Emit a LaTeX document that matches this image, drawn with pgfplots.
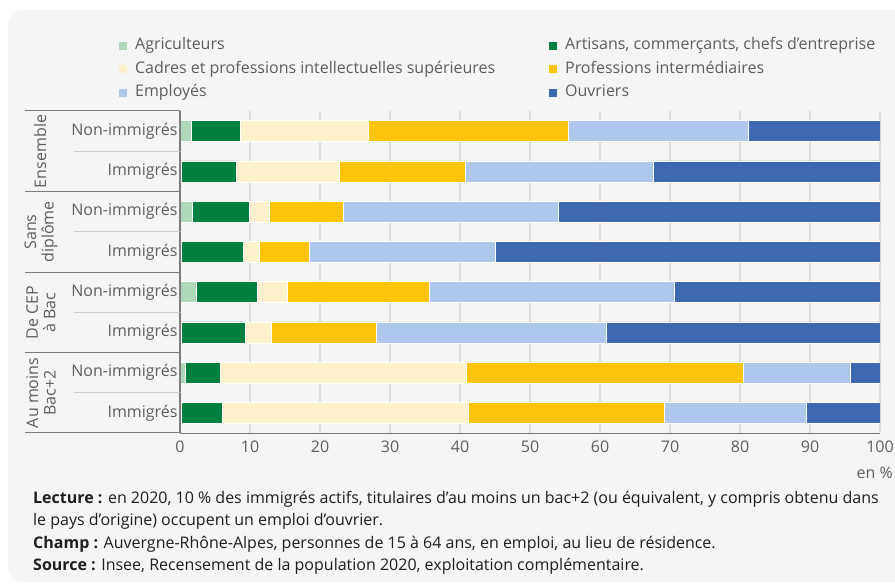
\documentclass[border=0pt]{standalone}
\usepackage{fontspec}
\setmainfont{Open Sans}
\usepackage{pgfplots}
\usepackage{pgfplotstable}
\pgfplotsset{compat=1.18}
\definecolor{cAgri}{HTML}{AED8B9}
\definecolor{cArt}{HTML}{00803F}
\definecolor{cCad}{HTML}{FDF0CD}
\definecolor{cProf}{HTML}{FCC30B}
\definecolor{cEmp}{HTML}{AEC8EC}
\definecolor{cOuv}{HTML}{3D69B0}
\definecolor{panel}{HTML}{F5F5F5}
\definecolor{txt}{HTML}{5E5E5E}
\definecolor{foot}{HTML}{1E1E1E}
\definecolor{gridc}{HTML}{DEDEDE}
\definecolor{axc}{HTML}{7A7A7A}
\definecolor{sepl}{HTML}{CDCDCD}

\pgfplotstableread{
row agri art cad prof emp ouv
0 1.6 7.0 18.3 28.6 25.7 18.8
1 0.2 7.9 14.7 17.9 26.9 32.4
2 1.8 8.1 2.8 10.7 30.6 46.0
3 0.2 8.9 2.3 7.1 26.5 55.0
4 2.4 8.6 4.3 20.3 35.0 29.4
5 0.2 9.1 3.7 15.0 32.9 39.1
6 0.7 5.0 35.2 39.6 15.2 4.3
7 0.2 5.8 35.2 28.0 20.3 10.5
}\data

\newcommand{\fs}{\fontsize{16}{17.5}\selectfont}

\begin{document}
\begin{tikzpicture}[x=1pt,y=1pt]
\useasboundingbox (0,0) rectangle (895,584);
\fill[white] (0,0) rectangle (895,584);
\fill[panel, rounded corners=14pt] (8,2) rectangle (930,574);

\begin{axis}[
  at={(180pt,151pt)}, anchor=south west,
  scale only axis, width=700pt, height=322pt,
  xbar stacked, bar width=21pt,
  y dir=reverse,
  xmin=0, xmax=100, ymin=-0.5, ymax=7.5,
  ytick={0,...,7},
  yticklabels={Non-immigrés,Immigrés,Non-immigrés,Immigrés,Non-immigrés,Immigrés,Non-immigrés,Immigrés},
  xtick={0,10,...,100},
  xmajorgrids, grid style={gridc, line width=1.2pt},
  axis x line*=bottom, axis y line*=left,
  axis line style={axc, line width=1pt, -},
  major tick length=0pt,
  tick label style={txt, font=\fs},
  xticklabel style={yshift=-4pt},
  yticklabel style={xshift=1pt},
  /pgf/number format/assume math mode=true,
  every axis plot/.append style={draw=white, line width=0.7pt},
  legend columns=2,
  legend cell align=left,
  legend image code/.code={\fill[#1,draw=none] (0pt,-4pt) rectangle (8pt,4pt);},
  legend style={draw=none, fill=none, font=\fs, text=txt,
    at={(axis description cs:-0.0915,1.238)}, anchor=north west,
    nodes={inner sep=1pt, text height=12pt, text depth=4pt},
    row sep=5.5pt,
    /tikz/every odd column/.append style={column sep=7pt}},
]
\addplot[fill=cAgri] table[x=agri, y=row] {\data};
\addlegendentry{\makebox[413pt][l]{Agriculteurs}}
\addplot[fill=cArt] table[x=art, y=row] {\data};
\addlegendentry{Artisans, commerçants, chefs d’entreprise}
\addplot[fill=cCad] table[x=cad, y=row] {\data};
\addlegendentry{\makebox[413pt][l]{Cadres et professions intellectuelles supérieures}}
\addplot[fill=cProf] table[x=prof, y=row] {\data};
\addlegendentry{Professions intermédiaires}
\addplot[fill=cEmp] table[x=emp, y=row] {\data};
\addlegendentry{\makebox[413pt][l]{Employés}}
\addplot[fill=cOuv] table[x=ouv, y=row] {\data};
\addlegendentry{Ouvriers}
\end{axis}

% separators
\foreach \yy in {111,192,272.5,353,433}{
  \draw[axc, line width=1pt] (25,584-\yy) -- (180,584-\yy);
}
\foreach \yy in {151.7,232,312.7,393}{
  \draw[sepl, line width=1pt] (74,584-\yy) -- (180,584-\yy);
}
\draw[axc, line width=1pt] (180,584-111) -- (180,584-433);

% group labels
\node[rotate=90, txt, font=\fs] at (40,584-151.5) {Ensemble};
\node[rotate=90, txt, font=\fs, align=center] at (41,584-232) {Sans\\diplôme};
\node[rotate=90, txt, font=\fs, align=center] at (41,584-312.5) {De CEP\\à Bac};
\node[rotate=90, txt, font=\fs, align=center] at (41,584-393) {Au moins\\Bac+2};

\node[anchor=east, txt, font=\fs, inner sep=0pt] at (893,584-473) {en \%};

\node[anchor=north west, foot, inner sep=0pt, align=left,
      font=\fontsize{16}{22.4}\selectfont] at (33,584-491)
 {\textbf{Lecture~:} en 2020, 10~\% des immigrés actifs, titulaires d’au moins un bac+2 (ou équivalent, y compris obtenu dans\\
 le pays d’origine) occupent un emploi d’ouvrier.\\
 \textbf{Champ~:} Auvergne-Rhône-Alpes, personnes de 15 à 64 ans, en emploi, au lieu de résidence.\\
 \textbf{Source~:} Insee, Recensement de la population 2020, exploitation complémentaire.};
\end{tikzpicture}
\end{document}
